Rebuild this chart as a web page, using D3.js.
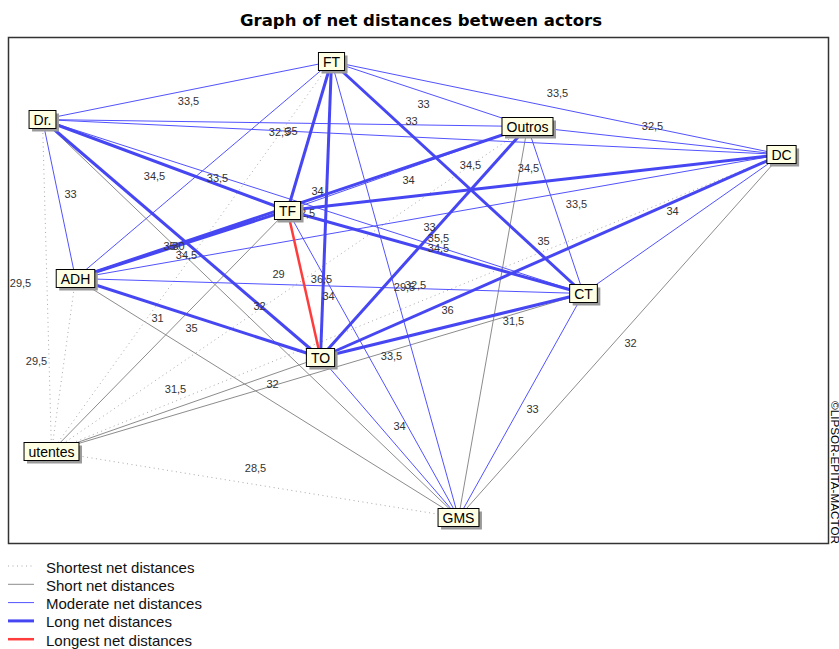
<!DOCTYPE html>
<html><head><meta charset="utf-8">
<script src="https://cdn.jsdelivr.net/npm/d3@7"></script>
<style>body{margin:0;background:#fff;} svg{display:block;}</style>
</head><body>
<svg id="chart" width="839" height="649"></svg>
<script>
// ---------- data ----------
const actors = ["FT","Dr.","Outros","DC","TF","ADH","CT","TO","utentes","GMS"];
// layout coordinates of actors on the map (map units)
const actorX = [323, 34, 519, 773, 279, 67, 575, 312, 43, 450];
const actorY = [24, 82, 89, 117, 173, 241, 256, 320, 414, 480];

const edgeFrom  = [0,0,0,0,0,0,0,0,0, 1,1,1,1,1,1,1,1, 2,2,2,2,2,2,2, 3,3,3,3,3,3, 4,4,4,4,4, 5,5,5,5, 6,6,6, 7,7, 8];
const edgeTo    = [1,2,3,4,5,6,7,8,9, 2,3,4,5,6,7,8,9, 3,4,5,6,7,8,9, 4,5,6,7,8,9, 5,6,7,8,9, 6,7,8,9, 7,8,9, 8,9, 9];
const edgeValue = [33.5,33,33.5,35,33.5,34.5,32.5,30,32.5,
                   32.5,33,34.5,33,34,35,29.5,32,
                   32.5,34,35,33.5,34.5,29,31.5,
                   34.5,33,34,35,29.5,32,
                   34.5,35.5,36.5,31,33.5,
                   34,35,29.5,32,
                   36,32,33,
                   31.5,34,
                   28.5];
// 0 shortest, 1 short, 2 moderate, 3 long, 4 longest
const edgeClass = [2,2,2,3,2,3,3,0,2,
                   2,2,3,2,2,3,0,1,
                   2,2,3,2,3,0,1,
                   3,2,2,3,0,1,
                   3,3,4,1,2,
                   2,3,0,1,
                   3,1,2,
                   1,2,
                   0];
const classNames = ["Shortest net distances","Short net distances","Moderate net distances","Long net distances","Longest net distances"];

// ---------- layout (label placement relative to edge midpoint, px) ----------
const labelOffset = [[1.5,10],[-6,9.5],[1,-15.5],[-18,-5.5],[14,7.5],[13,-13],[-21.5,3],[-13,-11],[20.5,-5],
  [-5.5,8.5],[-0.5,-16.5],[-10.5,10.5],[11.5,-5.5],[4.5,-16],[-12,7],[-26.5,-3],[9,-13],
  [-2,-15],[1,11],[-5,2],[21,-6.5],[14.5,5.5],[-11,-15.5],[20.5,-1.5],
  [-6,-15],[1,10],[-10,-13.5],[-7.5,-15.5],[-12,-16.5],[10.5,6.5],
  [5,10],[3,-14.5],[17.5,-5.5],[-12,-13.5],[18.5,-8.5],
  [-1,9.5],[-6.5,9.5],[-27,-4.5],[5.5,-14.5],
  [-4.5,-16],[-6,-15],[11.5,3],
  [-10.5,-16],[10,-12],
  [0.5,-17]];

const classStyle = [
  {stroke:"#a9a9a9", width:1,   dash:"1,3.5"},
  {stroke:"#8c8c8c", width:1,   dash:null},
  {stroke:"#5252ff", width:1,   dash:null},
  {stroke:"#4646f2", width:3,   dash:null},
  {stroke:"#ff3c3c", width:2.5, dash:null}
];

const svg = d3.select("#chart");
const FONT = "'Liberation Sans', Arial, sans-serif";

// frame
const frame = {x0:8.5, y0:37.5, x1:828.5, y1:543.5};
const x = d3.scaleLinear().domain([0,820]).range([frame.x0, frame.x1]);
const y = d3.scaleLinear().domain([0,506]).range([frame.y0, frame.y1]);

svg.append("text").attr("x", 421).attr("y", 26).attr("text-anchor","middle")
  .attr("font-family", "'DejaVu Sans', Verdana, sans-serif").attr("font-weight","bold").attr("font-size", 15)
  .attr("textLength", 362).attr("lengthAdjust","spacingAndGlyphs")
  .attr("fill","#000").text("Graph of net distances between actors");

svg.append("rect").attr("x", frame.x0).attr("y", frame.y0)
  .attr("width", frame.x1-frame.x0).attr("height", frame.y1-frame.y0)
  .attr("fill","#fff").attr("stroke","#333").attr("stroke-width",1.5);

const edges = edgeFrom.map((a,i)=>({a, b:edgeTo[i], v:edgeValue[i], c:edgeClass[i], off:labelOffset[i]}));
const drawOrder = edges.slice().sort((p,q)=>p.c-q.c);

const gEdges = svg.append("g");
gEdges.selectAll("line").data(drawOrder).join("line")
  .attr("x1", d=>x(actorX[d.a])).attr("y1", d=>y(actorY[d.a]))
  .attr("x2", d=>x(actorX[d.b])).attr("y2", d=>y(actorY[d.b]))
  .attr("stroke", d=>classStyle[d.c].stroke)
  .attr("stroke-width", d=>classStyle[d.c].width)
  .attr("stroke-dasharray", d=>classStyle[d.c].dash)
  .attr("stroke-linecap","butt");

const fmt = v => String(v).replace(".", ",");
svg.append("g").selectAll("text").data(edges).join("text")
  .attr("x", d=>(x(actorX[d.a])+x(actorX[d.b]))/2 + d.off[0])
  .attr("y", d=>(y(actorY[d.a])+y(actorY[d.b]))/2 + d.off[1])
  .attr("text-anchor","middle").attr("dominant-baseline","central")
  .attr("font-family", FONT).attr("font-size", 11).attr("fill","#333")
  .text(d=>fmt(d.v));

// nodes
const gNodes = svg.append("g").selectAll("g").data(actors).join("g")
  .attr("transform", (d,i)=>`translate(${x(actorX[i])},${y(actorY[i])})`);
gNodes.each(function(d){
  const g = d3.select(this);
  const t = g.append("text").attr("text-anchor","middle").attr("dominant-baseline","central")
    .attr("font-family", FONT).attr("font-size", 14).attr("fill","#000").text(d);
  const w = t.node().getComputedTextLength() + 9, h = 18;
  g.insert("rect","text").attr("x",-w/2+3).attr("y",-h/2+3).attr("width",w).attr("height",h)
    .attr("fill","#9a9a9a");
  g.insert("rect","text").attr("x",-w/2).attr("y",-h/2).attr("width",w).attr("height",h)
    .attr("fill","#ffffe3").attr("stroke","#000").attr("stroke-width",1);
});

// copyright
svg.append("text").attr("transform","translate(834.5,401) rotate(90)")
  .attr("font-family", FONT).attr("font-size", 11).attr("fill","#000")
  .attr("textLength", 143).attr("lengthAdjust","spacingAndGlyphs")
  .attr("dominant-baseline","central").text("©LIPSOR-EPITA-MACTOR");

// legend
const leg = svg.append("g").selectAll("g").data(classNames).join("g")
  .attr("transform",(d,i)=>`translate(0,${566 + i*18.3})`);
leg.append("line").attr("x1",8).attr("x2",34).attr("y1",0).attr("y2",0)
  .attr("stroke",(d,i)=>classStyle[i].stroke)
  .attr("stroke-width",(d,i)=>classStyle[i].width)
  .attr("stroke-dasharray",(d,i)=>classStyle[i].dash);
leg.append("text").attr("x",46).attr("y",1).attr("dominant-baseline","central")
  .attr("font-family", FONT).attr("font-size", 15).attr("fill","#111").text(d=>d);
</script>
</body></html>
